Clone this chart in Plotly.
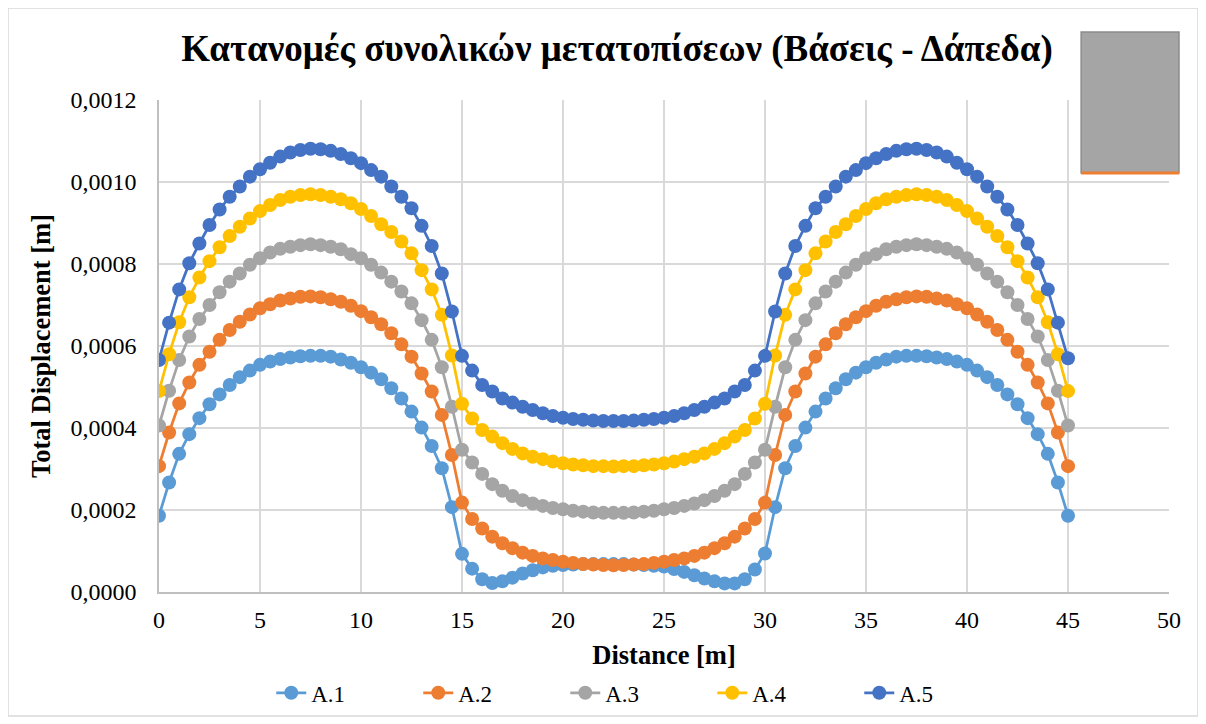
import plotly.graph_objects as go

distance = [i * 0.5 for i in range(91)]

a1 = [0.000186, 0.000267, 0.000337, 0.000385, 0.000424, 0.000458, 0.000482, 0.000505, 0.000524, 0.000540,
      0.000554, 0.000562, 0.000568, 0.000572, 0.000575, 0.000576, 0.000576, 0.000574, 0.000567, 0.000559,
      0.000548, 0.000535, 0.000519, 0.000497, 0.000472, 0.000440, 0.000401, 0.000356, 0.000302, 0.000207,
      0.000093, 0.000057, 0.000031, 0.000022, 0.000026, 0.000035, 0.000045, 0.000053, 0.000060, 0.000064,
      0.000066, 0.000067, 0.000068, 0.000068, 0.000068,
      0.000068,
      0.000068, 0.000067, 0.000066, 0.000064, 0.000062, 0.000056, 0.000049, 0.000041, 0.000033, 0.000026,
      0.000021, 0.000021, 0.000031, 0.000055, 0.000094,
      0.000207, 0.000302, 0.000356, 0.000401, 0.000440, 0.000472, 0.000497, 0.000519, 0.000535, 0.000548,
      0.000559, 0.000567, 0.000574, 0.000576, 0.000576, 0.000575, 0.000572, 0.000568, 0.000562, 0.000554,
      0.000540, 0.000524, 0.000505, 0.000482, 0.000458, 0.000424, 0.000385, 0.000337, 0.000267, 0.000186]

a2 = [0.000307, 0.000389, 0.000460, 0.000511, 0.000554, 0.000586, 0.000615, 0.000639, 0.000659, 0.000677,
      0.000692, 0.000702, 0.000711, 0.000716, 0.000720, 0.000721, 0.000719, 0.000714, 0.000708, 0.000698,
      0.000685, 0.000670, 0.000653, 0.000631, 0.000604, 0.000574, 0.000533, 0.000489, 0.000432, 0.000334,
      0.000218, 0.000178, 0.000155, 0.000135, 0.000119, 0.000107, 0.000096, 0.000088, 0.000082, 0.000078,
      0.000074, 0.000071, 0.000068, 0.000067, 0.000066,
      0.000065,
      0.000066, 0.000067, 0.000068, 0.000071, 0.000074,
      0.000078, 0.000082, 0.000088, 0.000096, 0.000107, 0.000119, 0.000135, 0.000155, 0.000178, 0.000218,
      0.000334, 0.000432, 0.000489, 0.000533, 0.000574, 0.000604, 0.000631, 0.000653, 0.000670, 0.000685,
      0.000698, 0.000708, 0.000714, 0.000719, 0.000721, 0.000720, 0.000716, 0.000711, 0.000702, 0.000692,
      0.000677, 0.000659, 0.000639, 0.000615, 0.000586, 0.000554, 0.000511, 0.000460, 0.000389, 0.000307]

a3 = [0.000406, 0.000491, 0.000566, 0.000623, 0.000666, 0.000700, 0.000731, 0.000757, 0.000777, 0.000798,
      0.000814, 0.000828, 0.000837, 0.000842, 0.000846, 0.000848, 0.000846, 0.000842, 0.000836, 0.000824,
      0.000814, 0.000798, 0.000779, 0.000757, 0.000733, 0.000704, 0.000663, 0.000615, 0.000548, 0.000452,
      0.000347, 0.000316, 0.000288, 0.000263, 0.000247, 0.000234, 0.000224, 0.000216, 0.000210, 0.000205,
      0.000202, 0.000198, 0.000196, 0.000194, 0.000193,
      0.000193,
      0.000193, 0.000194, 0.000196, 0.000198, 0.000202,
      0.000205, 0.000210, 0.000216, 0.000224, 0.000234, 0.000247, 0.000263, 0.000288, 0.000316, 0.000347,
      0.000452, 0.000548, 0.000615, 0.000663, 0.000704, 0.000733, 0.000757, 0.000779, 0.000798, 0.000814,
      0.000824, 0.000836, 0.000842, 0.000846, 0.000848, 0.000846, 0.000842, 0.000837, 0.000828, 0.000814,
      0.000798, 0.000777, 0.000757, 0.000731, 0.000700, 0.000666, 0.000623, 0.000566, 0.000491, 0.000406]

a4 = [0.000490, 0.000580, 0.000658, 0.000719, 0.000767, 0.000807, 0.000841, 0.000868, 0.000891, 0.000911,
      0.000929, 0.000944, 0.000956, 0.000964, 0.000968, 0.000970, 0.000968, 0.000964, 0.000958, 0.000948,
      0.000934, 0.000917, 0.000897, 0.000878, 0.000855, 0.000826, 0.000785, 0.000738, 0.000676, 0.000577,
      0.000459, 0.000423, 0.000395, 0.000379, 0.000363, 0.000349, 0.000338, 0.000330, 0.000324, 0.000318,
      0.000314, 0.000311, 0.000309, 0.000307, 0.000307,
      0.000306,
      0.000307, 0.000307, 0.000309, 0.000311, 0.000314,
      0.000318, 0.000324, 0.000330, 0.000338, 0.000349, 0.000363, 0.000379, 0.000395, 0.000423, 0.000459,
      0.000577, 0.000676, 0.000738, 0.000785, 0.000826, 0.000855, 0.000878, 0.000897, 0.000917, 0.000934,
      0.000948, 0.000958, 0.000964, 0.000968, 0.000970, 0.000968, 0.000964, 0.000956, 0.000944, 0.000929,
      0.000911, 0.000891, 0.000868, 0.000841, 0.000807, 0.000767, 0.000719, 0.000658, 0.000580, 0.000490]

a5 = [0.000566, 0.000657, 0.000738, 0.000802, 0.000850, 0.000895, 0.000933, 0.000964, 0.000989, 0.001013,
      0.001031, 0.001047, 0.001062, 0.001072, 0.001078, 0.001081, 0.001080, 0.001076, 0.001068, 0.001058,
      0.001046, 0.001029, 0.001013, 0.000989, 0.000964, 0.000936, 0.000893, 0.000844, 0.000777, 0.000684,
      0.000576, 0.000540, 0.000505, 0.000489, 0.000472, 0.000462, 0.000452, 0.000444, 0.000436, 0.000429,
      0.000425, 0.000422, 0.000420, 0.000418, 0.000417,
      0.000417,
      0.000417, 0.000418, 0.000420, 0.000422, 0.000425,
      0.000429, 0.000436, 0.000444, 0.000452, 0.000462, 0.000472, 0.000489, 0.000505, 0.000540, 0.000576,
      0.000684, 0.000777, 0.000844, 0.000893, 0.000936, 0.000964, 0.000989, 0.001013, 0.001029, 0.001046,
      0.001058, 0.001068, 0.001076, 0.001080, 0.001081, 0.001078, 0.001072, 0.001062, 0.001047, 0.001031,
      0.001013, 0.000989, 0.000964, 0.000933, 0.000895, 0.000850, 0.000802, 0.000738, 0.000657, 0.000570]

series_names = ["A.1", "A.2", "A.3", "A.4", "A.5"]
series_values = [a1, a2, a3, a4, a5]
series_colors = ["#5B9BD5", "#ED7D31", "#A5A5A5", "#FFC000", "#4472C4"]

x_ticks = [0, 5, 10, 15, 20, 25, 30, 35, 40, 45, 50]
y_ticks = [0.0, 0.0002, 0.0004, 0.0006, 0.0008, 0.0010, 0.0012]

FONT = "Liberation Serif, Times New Roman, serif"

fig = go.Figure()
for name, vals, col in zip(series_names, series_values, series_colors):
    fig.add_trace(go.Scatter(
        x=distance, y=vals, name=name, mode="lines+markers",
        line=dict(color=col, width=2.75),
        marker=dict(color=col, size=14),
    ))

grid = "#D9D9D9"
fig.update_layout(
    width=1206, height=724,
    paper_bgcolor="white", plot_bgcolor="white",
    separators=",.",
    font=dict(family=FONT, size=24, color="black"),
    title=dict(text="<b>Κατανομές συνολικών μετατοπίσεων (Βάσεις - Δάπεδα)</b>",
               x=0.505, xanchor="center", y=0.944, yanchor="middle",
               font=dict(family=FONT, size=37, color="black")),
    margin=dict(l=151, r=45, t=92, b=140),
    xaxis=dict(range=[0, 50], tickvals=x_ticks, showgrid=True, gridcolor=grid, gridwidth=1.5,
               showline=True, linecolor="#BFBFBF", linewidth=1.5, zeroline=False,
               ticks="", ticklabelstandoff=5, tickfont=dict(size=24),
               title=dict(text="<b>Distance [m]</b>", standoff=14,
                          font=dict(family=FONT, size=26.5))),
    yaxis=dict(range=[0, 0.0012], tickvals=y_ticks, tickformat=".4f", showgrid=True,
               gridcolor=grid, gridwidth=1.5, showline=True, linecolor="#BFBFBF", linewidth=1.5,
               zeroline=False, ticks="", ticklabelstandoff=16, tickfont=dict(size=24),
               title=dict(text="<b>Total Displacement [m]</b>", standoff=12,
                          font=dict(family=FONT, size=26.5))),
    legend=dict(orientation="h", x=0.475, xanchor="center", y=-0.205, yanchor="middle",
                font=dict(family=FONT, size=23), entrywidth=102, entrywidthmode="pixels",
                bgcolor="rgba(0,0,0,0)"),
    shapes=[
        dict(type="rect", xref="paper", yref="paper", x0=-0.1495, x1=1.0287, y0=-0.252, y1=1.187,
             line=dict(color="#D9D9D9", width=1.5), fillcolor="rgba(0,0,0,0)", layer="below"),
        dict(type="rect", xref="paper", yref="paper", x0=0.913, x1=1.0099, y0=0.8516, y1=1.138,
             line=dict(color="#8C8C8C", width=1.5), fillcolor="#A5A5A5", layer="above"),
        dict(type="line", xref="paper", yref="paper", x0=0.913, x1=1.0099, y0=0.8516, y1=0.8516,
             line=dict(color="#ED7D31", width=3), layer="above"),
    ],
)

fig.write_html("out.html")
